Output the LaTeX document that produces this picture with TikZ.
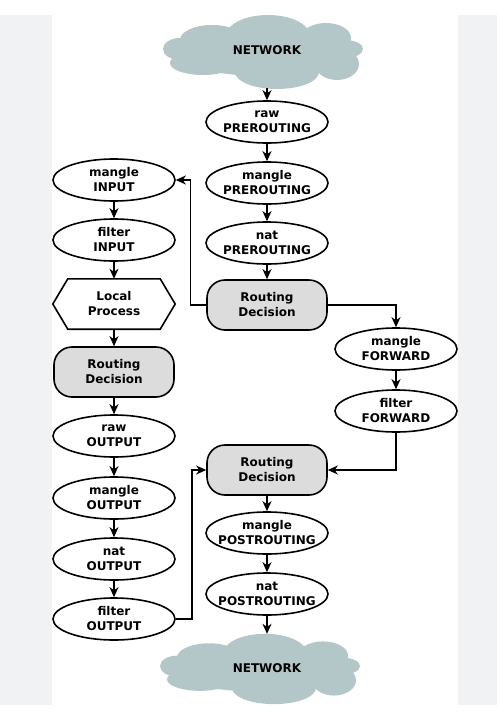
\documentclass[tikz,border=0pt]{standalone}
\usepackage{fontspec}
\setmainfont{DejaVu Sans}
\usetikzlibrary{arrows.meta,shapes.geometric}
\definecolor{bgside}{HTML}{F1F2F4}
\definecolor{cloudc}{HTML}{B4C7C8}
\definecolor{rdfill}{HTML}{DCDCDC}
\newcommand\netcloud[3]{%
\begin{scope}[shift={(#1,#2)},yscale=#3]
\fill[cloudc] (0,1) ellipse [x radius=88pt, y radius=24pt];
\fill[cloudc] (-51,-11) ellipse [x radius=32pt, y radius=15pt];
\fill[cloudc] (5,-15) ellipse [x radius=42pt, y radius=21pt];
\fill[cloudc] (63,-13) ellipse [x radius=25pt, y radius=15pt];
\fill[cloudc] (-83,-2) ellipse [x radius=17pt, y radius=11pt];
\fill[cloudc] (82,-2) ellipse [x radius=18pt, y radius=9pt];
\fill[cloudc] (74,13) ellipse [x radius=22pt, y radius=16pt];
\fill[cloudc] (14,21) ellipse [x radius=42pt, y radius=17pt];
\fill[cloudc] (-60,12) ellipse [x radius=33pt, y radius=12pt];
\end{scope}}
\begin{document}
\begin{tikzpicture}[x=1pt,y=-1pt,
  every node/.style={font=\fontsize{12}{15}\selectfont\bfseries, align=center},
  tbl/.style={ellipse, draw, line width=1.6pt, minimum width=122pt, minimum height=42pt, inner xsep=-40pt, inner ysep=0pt},
  rd/.style={rectangle, rounded corners=18pt, draw, line width=1.6pt, fill=rdfill, minimum width=120pt, minimum height=50pt},
  hexn/.style={rectangle, minimum width=122pt, minimum height=50pt},
  netn/.style={rectangle, minimum width=200pt},
  arr/.style={line width=1.4pt, -{Stealth[length=10pt,width=9pt,inset=3pt]}}]
\useasboundingbox (0,0) rectangle (497,715);
\fill[white] (0,0) rectangle (497,715);
\fill[bgside] (0,15) rectangle (52,705);
\fill[bgside] (458,15) rectangle (497,705);
\netcloud{263}{51}{1}
\netcloud{260}{668}{0.95}
\node[netn, minimum height=76pt] (net1) at (267,50) {NETWORK};
\node[netn, minimum height=68pt] (net2) at (267,668) {NETWORK};
\node[tbl] (rawpre) at (267,122) {raw\\PREROUTING};
\node[tbl] (manpre) at (267,183) {mangle\\PREROUTING};
\node[tbl] (natpre) at (267,243) {nat\\PREROUTING};
\node[rd] (rd1) at (267,305) {Routing\\Decision};
\node[tbl] (manin) at (114,180) {mangle\\INPUT};
\node[tbl] (filin) at (114,240) {filter\\INPUT};
\node[hexn] (lp) at (114,304) {Local\\Process};
\draw[line width=1.6pt] (lp.west) -- ([xshift=15pt]lp.north west) -- ([xshift=-15pt]lp.north east) -- (lp.east) -- ([xshift=-15pt]lp.south east) -- ([xshift=15pt]lp.south west) -- cycle;
\node[rd] (rd2) at (114,372) {Routing\\Decision};
\node[tbl] (rawout) at (114,436) {raw\\OUTPUT};
\node[tbl] (manout) at (114,498) {mangle\\OUTPUT};
\node[tbl] (natout) at (114,559) {nat\\OUTPUT};
\node[tbl] (filout) at (114,619) {filter\\OUTPUT};
\node[tbl] (manfwd) at (396,349) {mangle\\FORWARD};
\node[tbl] (filfwd) at (396,411) {filter\\FORWARD};
\node[rd] (rd3) at (267,470) {Routing\\Decision};
\node[tbl] (manpost) at (267,533) {mangle\\POSTROUTING};
\node[tbl] (natpost) at (267,594) {nat\\POSTROUTING};
\draw[arr] (net1.south) -- (rawpre);
\draw[arr] (rawpre) -- (manpre);
\draw[arr] (manpre) -- (natpre);
\draw[arr] (natpre) -- (rd1);
\draw[arr] (rd1.west) -- ++(-16,0) |- (manin.east);
\draw[arr] (manin) -- (filin);
\draw[arr] (filin) -- (lp);
\draw[arr] (lp) -- (rd2);
\draw[arr] (rd2) -- (rawout);
\draw[arr] (rawout) -- (manout);
\draw[arr] (manout) -- (natout);
\draw[arr] (natout) -- (filout);
\draw[arr] (rd1.east) -| (manfwd.north);
\draw[arr] (manfwd) -- (filfwd);
\draw[arr] (filfwd.south) |- (rd3.east);
\draw[arr] (filout.east) -- ++(16,0) |- (rd3.west);
\draw[arr] (rd3) -- (manpost);
\draw[arr] (manpost) -- (natpost);
\draw[arr] (natpost) -- (net2.north);
\end{tikzpicture}
\end{document}
